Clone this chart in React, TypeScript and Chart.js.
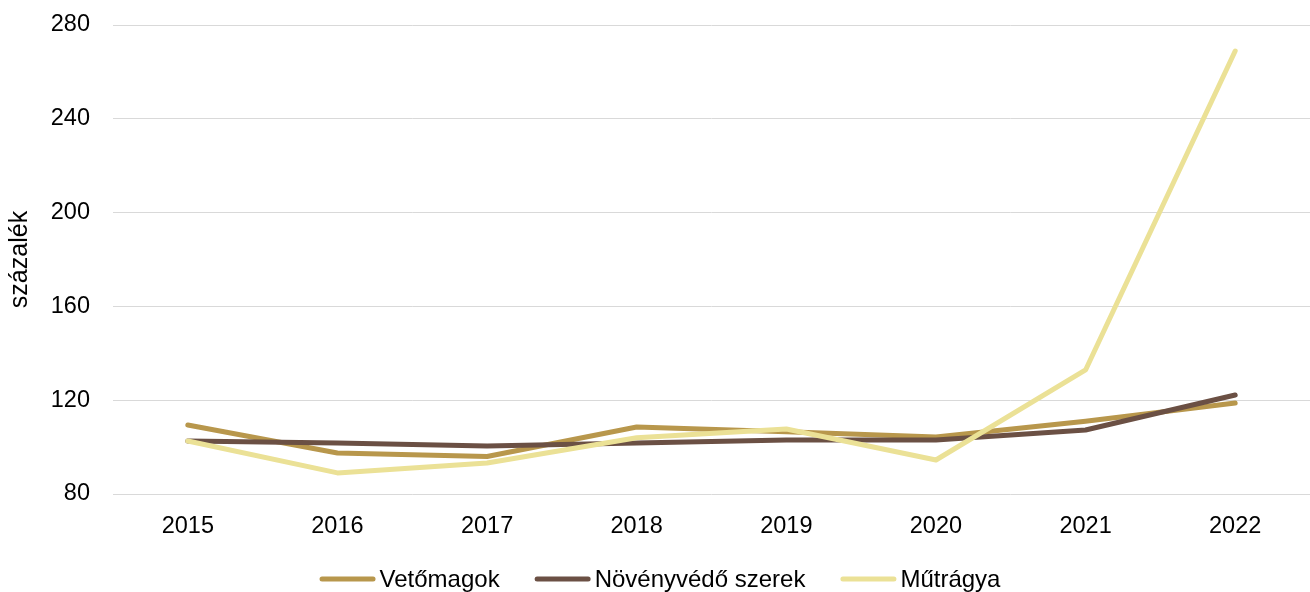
import React, { useEffect, useRef } from "react";
import { Chart, registerables } from "chart.js";

Chart.register(...registerables);

const years = ["2015", "2016", "2017", "2018", "2019", "2020", "2021", "2022"];
const vetomagok = [109.4, 97.5, 96.0, 108.6, 106.5, 104.3, 111.0, 118.8];
const novenyvedo = [102.6, 101.7, 100.5, 101.7, 103.0, 103.0, 107.3, 122.2];
const mutragya = [102.6, 89.0, 93.2, 104.0, 107.7, 94.5, 132.9, 268.9];
const yTicks = [80, 120, 160, 200, 240, 280];

const FONT = "'Liberation Sans', Arial, sans-serif";

const legendPlugin = {
  id: "customLegend",
  afterDraw(chart: any) {
    const ctx = chart.ctx;
    const items = chart.data.datasets
      .map((d: any) => ({ label: d.label as string, color: d.borderColor as string }))
      .reverse();
    ctx.save();
    ctx.font = `24px ${FONT}`;
    const lineLen = 56;
    const gap = 4;
    const itemGap = 35;
    const widths = items.map((it: any) => lineLen + gap + ctx.measureText(it.label).width);
    const total = widths.reduce((a: number, b: number) => a + b, 0) + itemGap * (items.length - 1);
    let x = 660 - total / 2;
    const y = 579;
    items.forEach((it: any, i: number) => {
      ctx.strokeStyle = it.color;
      ctx.lineWidth = 5;
      ctx.lineCap = "round";
      ctx.beginPath();
      ctx.moveTo(x + 2.5, y);
      ctx.lineTo(x + lineLen - 2.5, y);
      ctx.stroke();
      ctx.fillStyle = "#000";
      ctx.textBaseline = "middle";
      ctx.textAlign = "left";
      ctx.fillText(it.label, x + lineLen + gap, y + 1);
      x += widths[i] + itemGap;
    });
    ctx.restore();
  },
};

export default function App() {
  const ref = useRef<HTMLCanvasElement | null>(null);
  useEffect(() => {
    if (!ref.current) return;
    const chart = new Chart(ref.current, {
      type: "line",
      data: {
        labels: years,
        datasets: [
          { label: "Műtrágya", data: mutragya, borderColor: "#EBE196", backgroundColor: "#EBE196" },
          { label: "Növényvédő szerek", data: novenyvedo, borderColor: "#6B5044", backgroundColor: "#6B5044" },
          { label: "Vetőmagok", data: vetomagok, borderColor: "#B8974C", backgroundColor: "#B8974C" },
        ].map((d) => ({
          ...d,
          borderWidth: 5,
          pointRadius: 0,
          tension: 0,
          borderCapStyle: "round" as const,
          borderJoinStyle: "round" as const,
          fill: false,
        })),
      },
      plugins: [legendPlugin],
      options: {
        animation: false,
        responsive: false,
        maintainAspectRatio: false,
        layout: { padding: { top: 25, left: 0, right: 0, bottom: 52 } },
        plugins: {
          tooltip: { enabled: false },
          legend: { display: false },
        },
        scales: {
          x: {
            offset: true,
            grid: { display: false, drawTicks: false },
            border: { display: false },
            ticks: { color: "#000", padding: 18, font: { family: FONT, size: 23.5 } },
            afterFit: (s: any) => {
              s.height = 46;
              s.paddingLeft = 0;
              s.paddingRight = 0;
            },
          },
          y: {
            min: 80,
            max: 280,
            afterBuildTicks: (s: any) => {
              s.ticks = yTicks.map((v) => ({ value: v }));
            },
            afterFit: (s: any) => {
              s.width = 113;
              s.paddingTop = 0;
              s.paddingBottom = 0;
            },
            grid: { color: "#D9D9D9", lineWidth: 1, drawTicks: false },
            border: { display: false },
            ticks: { color: "#000", padding: 23, font: { family: FONT, size: 23.5 } },
            title: {
              display: true,
              text: "százalék",
              color: "#000",
              font: { family: FONT, size: 25 },
              padding: { top: 5, bottom: 0 },
            },
          },
        },
      },
    });
    return () => chart.destroy();
  }, []);
  return (
    <div style={{ position: "absolute", left: 0, top: 0, width: 1310, height: 592 }}>
      <canvas ref={ref} width={1310} height={592} />
    </div>
  );
}
